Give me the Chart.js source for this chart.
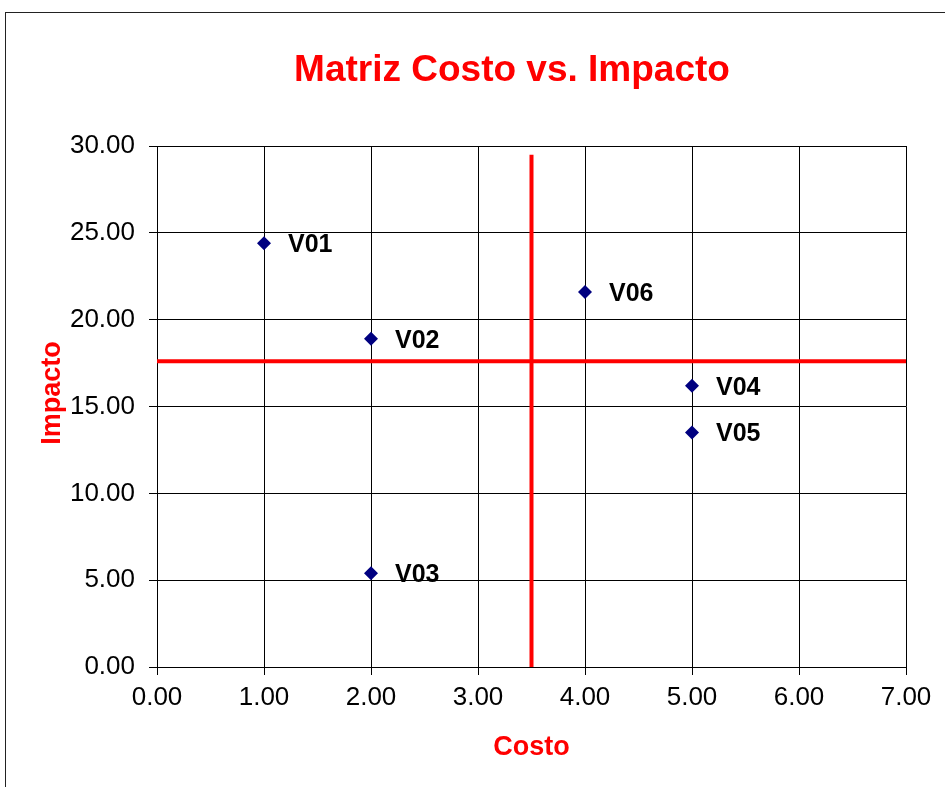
<!DOCTYPE html>
<html>
<head>
<meta charset="utf-8">
<title>Matriz Costo vs. Impacto</title>
<script src="https://cdn.jsdelivr.net/npm/chart.js@4.4.1/dist/chart.umd.min.js"></script>
<style>
  html, body { margin: 0; padding: 0; background: #fff; overflow: hidden; }
  #wrap { position: relative; width: 945px; height: 787px; }
  #frame {
    position: absolute; left: 5px; top: 12px; width: 1000px; height: 1000px;
    border-left: 1px solid #222; border-top: 1px solid #222;
  }
  canvas { position: absolute; left: 0; top: 0; }
</style>
</head>
<body>
<div id="wrap">
  <div id="frame"></div>
  <canvas id="matrixChart" width="945" height="787"></canvas>
</div>
<script>
// ===== 1. DATA =====
const labels = ['V01', 'V02', 'V03', 'V04', 'V05', 'V06'];
const costo = [1, 2, 2, 5, 5, 4];                       // x values
const impacto = [24.4, 18.9, 5.4, 16.2, 13.5, 21.6];    // y values

// the two red dividing lines of the matrix
const lineaImpacto = 17.6;     // horizontal line
const lineaCosto = 3.5;        // vertical line
const lineaCostoTop = 29.5;    // where the vertical line ends

const xTicks = [0, 1, 2, 3, 4, 5, 6, 7];
const yTicks = [0, 5, 10, 15, 20, 25, 30];

// ===== 2. BUILD POINTS =====
const points = costo.map(function(x, i) {
  return { x: x, y: impacto[i] };
});

const FONT = 'Arial, "Liberation Sans", sans-serif';
const RED = '#ff0000';

// ===== 3. PLUGIN: title, point labels, y axis title =====
const labelPlugin = {
  id: 'labelPlugin',
  afterDatasetsDraw: function(chart) {
    const ctx = chart.ctx;
    const meta = chart.getDatasetMeta(0);
    ctx.save();

    // main title (sits right of the canvas centre, like the original)
    ctx.font = 'bold 37px ' + FONT;
    ctx.fillStyle = RED;
    ctx.textAlign = 'center';
    ctx.textBaseline = 'middle';
    ctx.fillText('Matriz Costo vs. Impacto', 512, 71);

    // point labels
    ctx.font = 'bold 25px ' + FONT;
    ctx.fillStyle = '#000';
    ctx.textAlign = 'left';
    meta.data.forEach(function(pt, i) {
      ctx.fillText(labels[i], pt.x + 24, pt.y + 2);
    });

    // rotated "Impacto" title
    ctx.font = 'bold 27px ' + FONT;
    ctx.fillStyle = RED;
    ctx.textAlign = 'center';
    ctx.translate(53, 393);
    ctx.rotate(-Math.PI / 2);
    ctx.fillText('Impacto', 0, 0);
    ctx.restore();
  }
};

// ===== 4. DRAW THE CHART =====
const ctx = document.getElementById('matrixChart').getContext('2d');

new Chart(ctx, {
  type: 'scatter',
  data: {
    datasets: [
      {
        label: 'Variables',
        data: points,
        pointStyle: 'rectRot',
        pointRadius: 7,
        pointBackgroundColor: '#000080',
        pointBorderColor: '#000080',
        pointBorderWidth: 0
      },
      {
        label: 'Impacto medio',
        data: [{ x: xTicks[0], y: lineaImpacto }, { x: xTicks[xTicks.length - 1], y: lineaImpacto }],
        showLine: true,
        borderColor: RED,
        borderWidth: 4,
        pointRadius: 0
      },
      {
        label: 'Costo medio',
        data: [{ x: lineaCosto, y: yTicks[0] }, { x: lineaCosto, y: lineaCostoTop }],
        showLine: true,
        borderColor: RED,
        borderWidth: 4,
        pointRadius: 0
      }
    ]
  },
  options: {
    responsive: false,
    animation: false,
    devicePixelRatio: 1,
    layout: { padding: { left: 0, right: 39, top: 146, bottom: 0 } },
    plugins: {
      legend: { display: false },
      tooltip: { enabled: false },
      title: { display: false }
    },
    scales: {
      x: {
        type: 'linear',
        min: 0,
        max: 7,
        afterBuildTicks: function(scale) {
          scale.ticks = xTicks.map(function(v) { return { value: v }; });
        },
        afterFit: function(scale) { scale.height = 120; },
        ticks: {
          color: '#000',
          font: { family: FONT, size: 26 },
          padding: 7,
          callback: function(v) { return Number(v).toFixed(2); }
        },
        grid: { color: '#000', lineWidth: 1, tickLength: 8 },
        border: { color: '#000', width: 1 },
        title: {
          display: true,
          text: 'Costo',
          color: RED,
          font: { family: FONT, size: 27, weight: 'bold', lineHeight: 1.2 },
          padding: { top: 0, bottom: 23 }
        }
      },
      y: {
        type: 'linear',
        min: 0,
        max: 30,
        afterBuildTicks: function(scale) {
          scale.ticks = yTicks.map(function(v) { return { value: v }; });
        },
        afterFit: function(scale) { scale.width = 157; },
        ticks: {
          color: '#000',
          font: { family: FONT, size: 26 },
          padding: 14,
          callback: function(v) { return Number(v).toFixed(2); }
        },
        grid: { color: '#000', lineWidth: 1, tickLength: 8 },
        border: { color: '#000', width: 1 }
      }
    }
  },
  plugins: [labelPlugin]
});
</script>
</body>
</html>
